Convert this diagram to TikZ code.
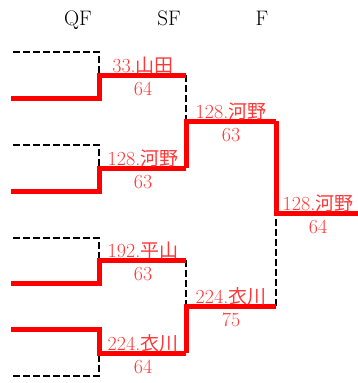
\documentclass[tikz,border=0pt]{standalone}
\usepackage{fontspec}
\newfontfamily\cjkfont[Scale=0.95]{Noto Sans CJK JP}
\definecolor{winred}{RGB}{255,0,0}
\definecolor{labred}{RGB}{255,55,55}
\begin{document}
\begin{tikzpicture}[x=1pt,y=-1pt,
  win/.style={draw=winred,line width=5pt,line join=miter},
  lose/.style={draw=black,line width=2.6pt,dash pattern=on 7pt off 3pt},
  hdr/.style={font=\fontsize{21}{21}\selectfont,anchor=base,inner sep=0pt},
  lab/.style={font=\fontsize{20}{20}\selectfont,text=labred,anchor=base,inner sep=0pt}]
\useasboundingbox (0,0) rectangle (358,383);
% headers
\node[hdr] (hqf) at (78,25) {QF};
\node[hdr] (hsf) at (169,25) {SF};
\node[hdr] (hf) at (262,25) {F};
% coordinates
\coordinate (a1) at (13,52);  \coordinate (a2) at (99,52);  \coordinate (a3) at (99,75);
\coordinate (b1) at (11,98);  \coordinate (b2) at (99,98);  \coordinate (b4) at (186,75);
\coordinate (c1) at (13,145); \coordinate (c2) at (99,145); \coordinate (c3) at (99,168);
\coordinate (d1) at (11,191); \coordinate (d2) at (99,191); \coordinate (d4) at (186,168);
\coordinate (e1) at (13,238); \coordinate (e2) at (99,238); \coordinate (e3) at (99,260);
\coordinate (f1) at (11,283); \coordinate (f2) at (99,283); \coordinate (f4) at (186,260);
\coordinate (g1) at (11,329); \coordinate (g2) at (99,329); \coordinate (g3) at (99,353);
\coordinate (h1) at (13,376); \coordinate (h2) at (99,376); \coordinate (g4) at (186,353);
\coordinate (s1) at (186,121); \coordinate (s2) at (276,121);
\coordinate (s3) at (186,306); \coordinate (s4) at (276,306);
\coordinate (fa) at (276,213); \coordinate (fb) at (358,213);
% QF losers (dashed)
\draw[lose] (a1) -- (a2) -- (a3);
\draw[lose] (c1) -- (c2) -- (c3);
\draw[lose] (e1) -- (e2) -- (e3);
\draw[lose] (h1) -- (h2) -- (g3);
% SF losers
\draw[lose] (b4) -- (s1);
\draw[lose] (f4) -- (s3);
% F loser
\draw[lose] (s4) -- (fa);
% winners
\draw[win] (b1) -- (b2) -- (a3) -- (b4);
\draw[win] (d1) -- (d2) -- (c3) -- (d4);
\draw[win] (f1) -- (f2) -- (e3) -- (f4);
\draw[win] (g1) -- (g2) -- (g3) -- (g4);
\draw[win] (d4) -- (s1) -- (s2);
\draw[win] (g4) -- (s3) -- (s4);
\draw[win] (s2) -- (fa) -- (fb);
% labels
\node[lab] (l1) at (143,72) {33.{\cjkfont 山田}};
\node[lab] (n1) at (143,95) {64};
\node[lab] (l2) at (143,165) {128.{\cjkfont 河野}};
\node[lab] (n2) at (143,188) {63};
\node[lab] (l3) at (143,257) {192.{\cjkfont 平山}};
\node[lab] (n3) at (143,280) {63};
\node[lab] (l4) at (143,350) {224.{\cjkfont 衣川}};
\node[lab] (n4) at (143,373) {64};
\node[lab] (l5) at (231,118) {128.{\cjkfont 河野}};
\node[lab] (n5) at (231,141) {63};
\node[lab] (l6) at (231,303) {224.{\cjkfont 衣川}};
\node[lab] (n6) at (231,326) {75};
\node[lab] (l7) at (318,210) {128.{\cjkfont 河野}};
\node[lab] (n7) at (318,233) {64};
\end{tikzpicture}
\end{document}
